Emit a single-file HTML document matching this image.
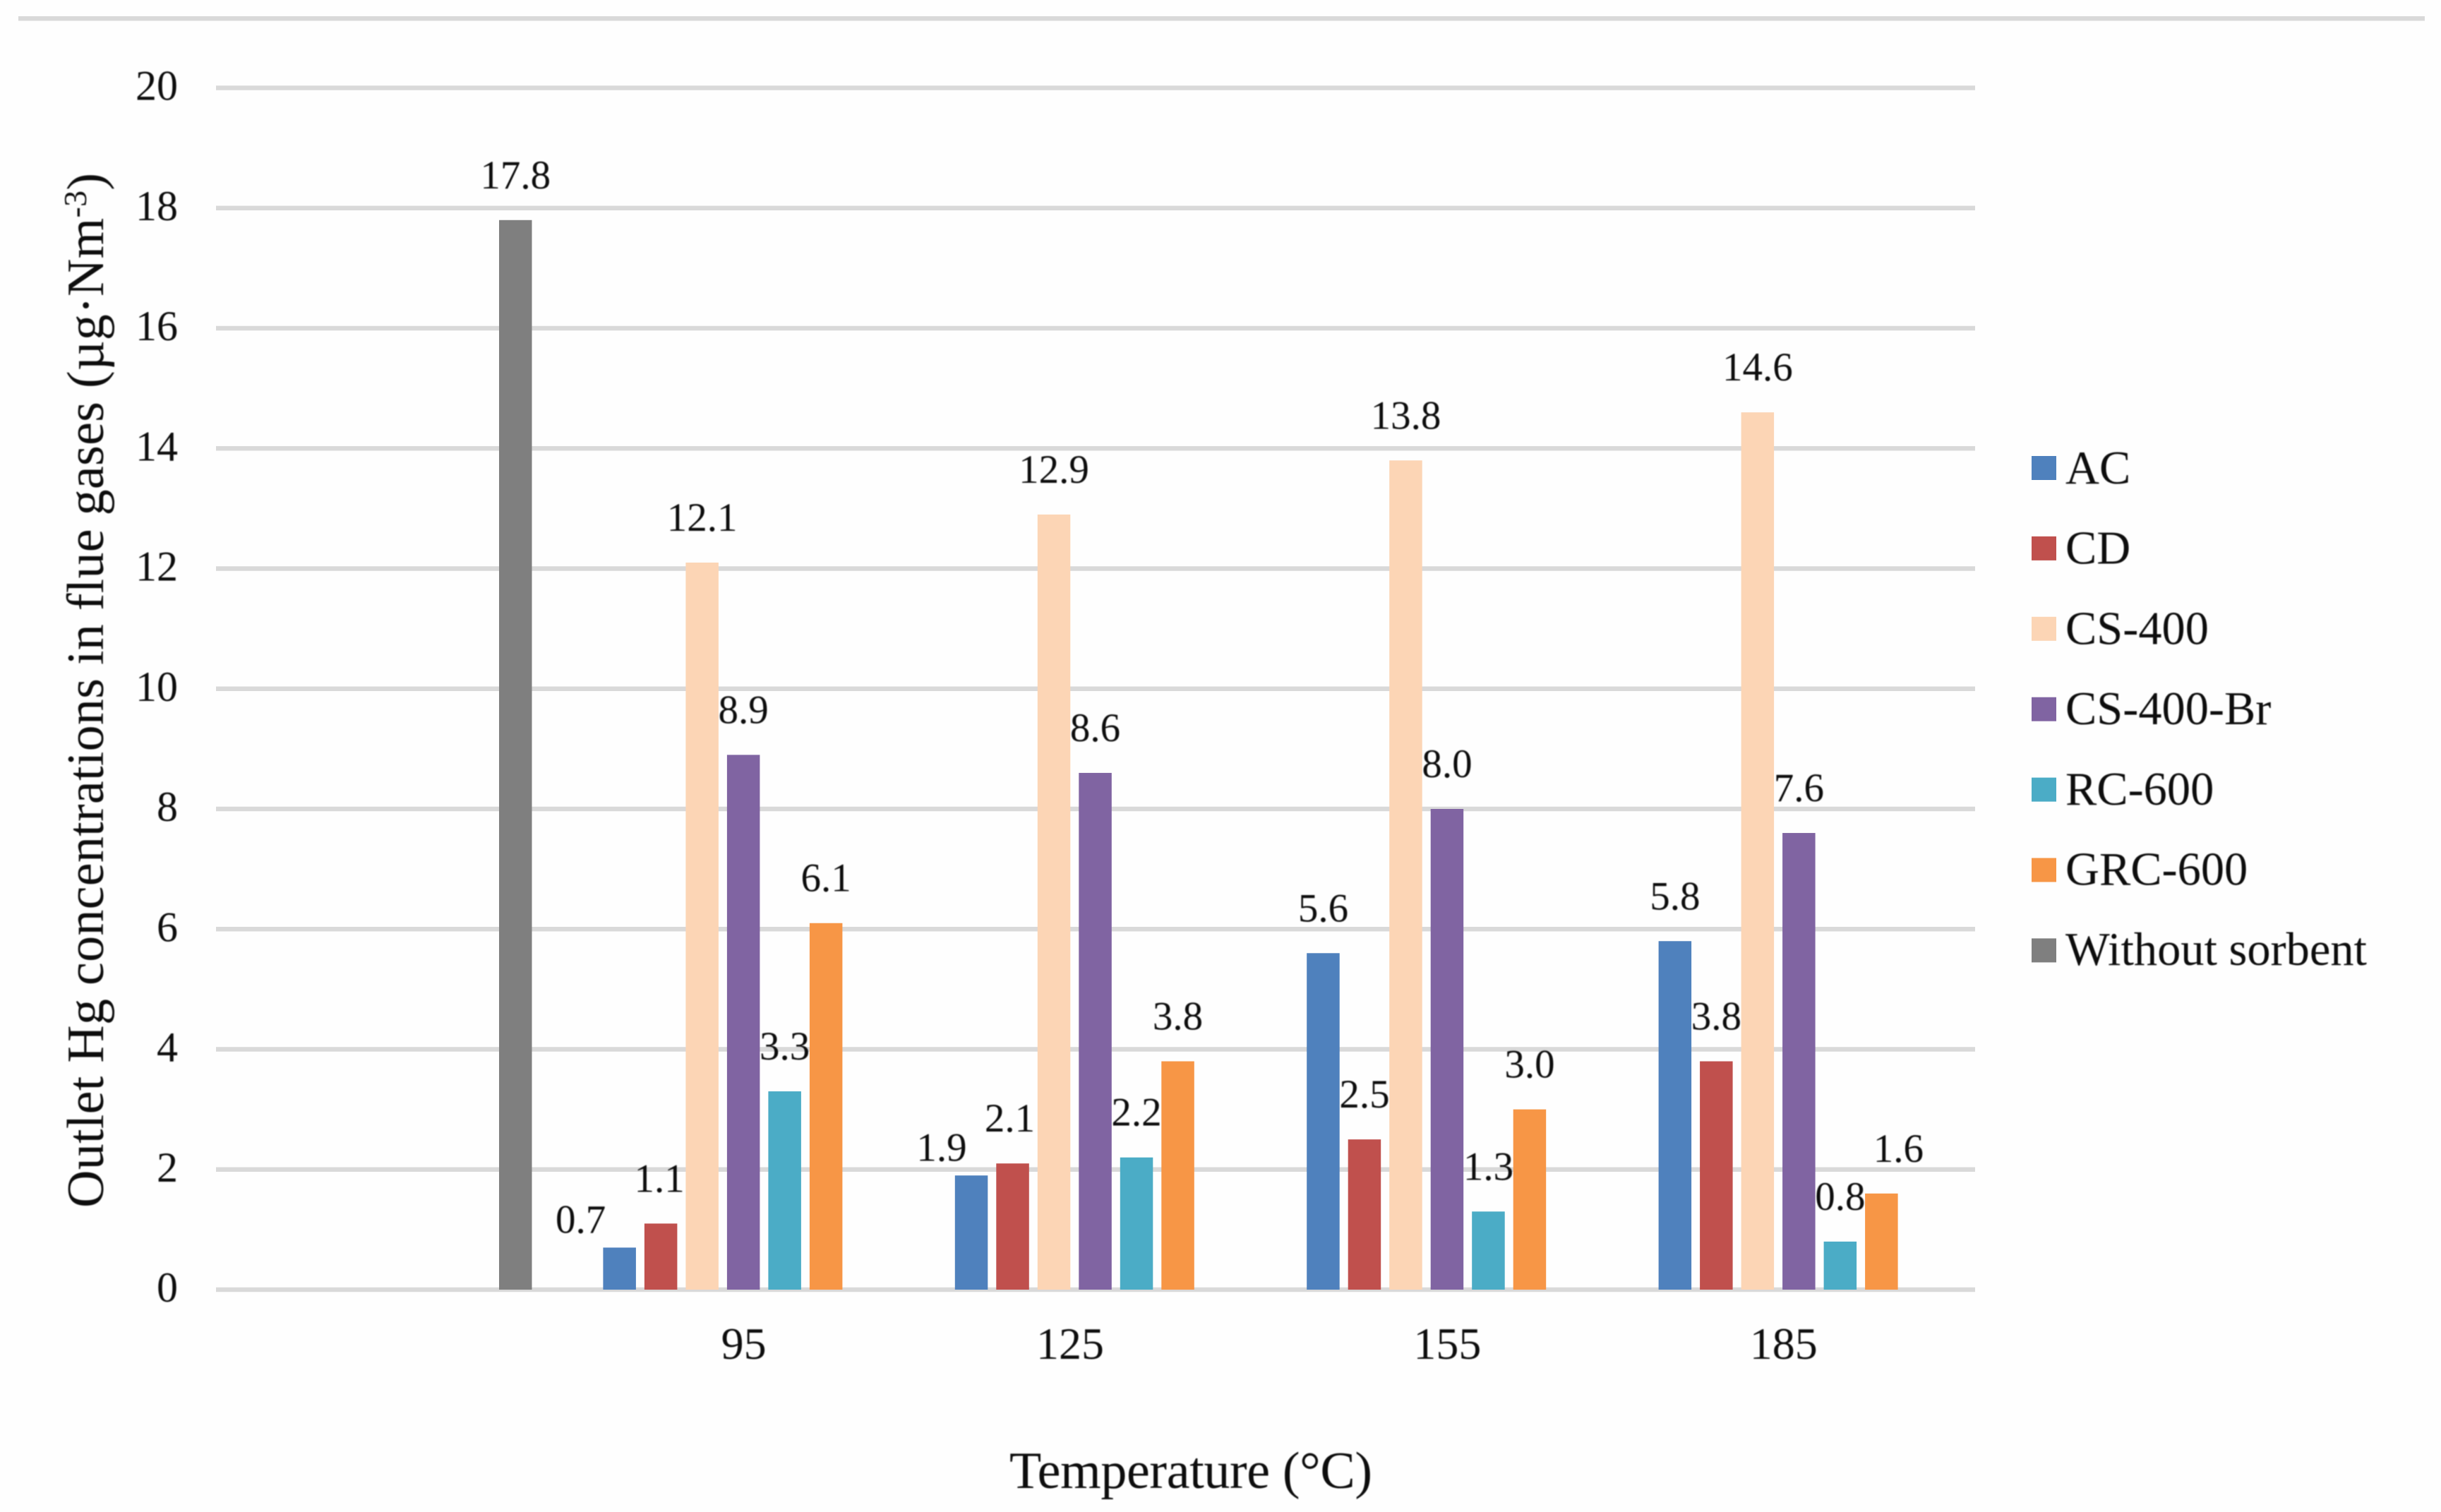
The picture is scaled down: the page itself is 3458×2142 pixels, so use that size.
<!DOCTYPE html>
<html lang="en">
<head>
<meta charset="utf-8">
<title>Outlet Hg concentrations by temperature</title>
<style>
html,body{margin:0;padding:0;background:#fefefe;}
svg{display:block;}
text{font-family:"Liberation Serif",serif;fill:#0d0d0d;filter:blur(0.7px);}
</style>
</head>
<body>
<svg id="chart" xmlns="http://www.w3.org/2000/svg" width="3458" height="2142" viewBox="0 0 3458 2142">
  <rect x="0" y="0" width="3458" height="2142" fill="#fefefe"/>
  <rect x="26" y="23" width="3409" height="6.5" fill="#d9d9d9"/>
  <g id="grid"></g>
  <g id="y-ticks"></g>
  <g id="bars"></g>
  <g id="value-labels"></g>
  <g id="x-ticks"></g>
  <g id="legend"></g>
  <text transform="translate(146,1711) rotate(-90)" font-size="74" textLength="1466" lengthAdjust="spacing">Outlet Hg concentrations in flue gases (µg·Nm<tspan font-size="46" dy="-24">-3</tspan><tspan dy="24">)</tspan></text>
  <text x="1430" y="2108" font-size="74" textLength="514" lengthAdjust="spacing">Temperature (°C)</text>
</svg>
<script>
// Chart data
const bandLabels = ["", "95", "125", "155", "185"];
const yTicks = [0, 2, 4, 6, 8, 10, 12, 14, 16, 18, 20];
const seriesNames = ["AC", "CD", "CS-400", "CS-400-Br", "RC-600", "GRC-600", "Without sorbent"];
const acValues = [null, 0.7, 1.9, 5.6, 5.8];
const cdValues = [null, 1.1, 2.1, 2.5, 3.8];
const cs400Values = [null, 12.1, 12.9, 13.8, 14.6];
const cs400BrValues = [null, 8.9, 8.6, 8.0, 7.6];
const rc600Values = [null, 3.3, 2.2, 1.3, 0.8];
const grc600Values = [null, 6.1, 3.8, 3.0, 1.6];
const withoutSorbentValues = [17.8, null, null, null, null];

// Styling and layout
const seriesColors = ["#4f81bd", "#c0504d", "#fcd5b5", "#8064a2", "#4bacc6", "#f79646", "#7f7f7f"];
const seriesKeys = ["ac", "cd", "cs-400", "cs-400-br", "rc-600", "grc-600", "without-sorbent"];
const allSeries = [acValues, cdValues, cs400Values, cs400BrValues, rc600Values, grc600Values, withoutSorbentValues];
const plot = { left: 306, right: 2798, y0: 1827, y20: 124.5, yMax: 20 };
const bandWidth = (plot.right - plot.left) / bandLabels.length;
const barPitch = 58.5;
const barWidth = 46.5;
const bandPad = 50;
const tickNudge = [0, 0, -36, 0, -22];
const labelNudgeDx = { "0-1": -55, "1-1": -2, "0-2": -42, "1-2": -4, "5-4": 24 };
const labelNudgeDy = { "0-1": 24, "0-2": 24 };
const NS = "http://www.w3.org/2000/svg";

function yScale(v) {
  return plot.y0 - (v / plot.yMax) * (plot.y0 - plot.y20);
}
function bandStart(b) {
  return plot.left + b * bandWidth;
}
function barX(b, s) {
  return bandStart(b) + bandPad + s * barPitch;
}
function makeNode(tag, attrs, parent) {
  const el = document.createElementNS(NS, tag);
  Object.keys(attrs).forEach(function (k) { el.setAttribute(k, attrs[k]); });
  parent.appendChild(el);
  return el;
}

const gridGroup = document.getElementById("grid");
const yTickGroup = document.getElementById("y-ticks");
const barGroup = document.getElementById("bars");
const labelGroup = document.getElementById("value-labels");
const xTickGroup = document.getElementById("x-ticks");
const legendGroup = document.getElementById("legend");

yTicks.forEach(function (t) {
  const line = makeNode("rect", { x: plot.left, y: yScale(t) - 3.25, width: plot.right - plot.left, height: 6.5, fill: "#d9d9d9" }, gridGroup);
  
  
  const label = makeNode("text", { x: 252, y: yScale(t) + 17, "font-size": 60, "text-anchor": "end" }, yTickGroup);
  label.textContent = String(t);
  
  
});

allSeries.forEach(function (values, s) {
  values.forEach(function (v, b) {
    if (v === null) return;
    const top = yScale(v);
    const bar = makeNode("rect", { x: barX(b, s), y: top, width: barWidth, height: plot.y0 - top, fill: seriesColors[s] }, barGroup);
    
    
    const key = s + "-" + b;
    const dx = labelNudgeDx[key] || 0;
    const dy = labelNudgeDy[key] || 0;
    const label = makeNode("text", { x: barX(b, s) + barWidth / 2 + dx, y: top - 45 + dy, "font-size": 57, "text-anchor": "middle" }, labelGroup);
    label.textContent = v.toFixed(1);
    
    
  });
});

bandLabels.forEach(function (name, b) {
  if (!name) return;
  const label = makeNode("text", { x: bandStart(b) + bandWidth / 2 + tickNudge[b], y: 1925, "font-size": 64, "text-anchor": "middle" }, xTickGroup);
  label.textContent = name;
  
  
});

seriesNames.forEach(function (name, s) {
  const entry = makeNode("g", {}, legendGroup);
  
  
  const swatch = makeNode("rect", { x: 2878, y: 646 + s * 113.9, width: 35, height: 34, fill: seriesColors[s] }, entry);
  
  
  const label = makeNode("text", { x: 2926, y: 685 + s * 113.7, "font-size": 66.4 }, entry);
  label.textContent = name;
  
  
});
</script>
</body>
</html>
